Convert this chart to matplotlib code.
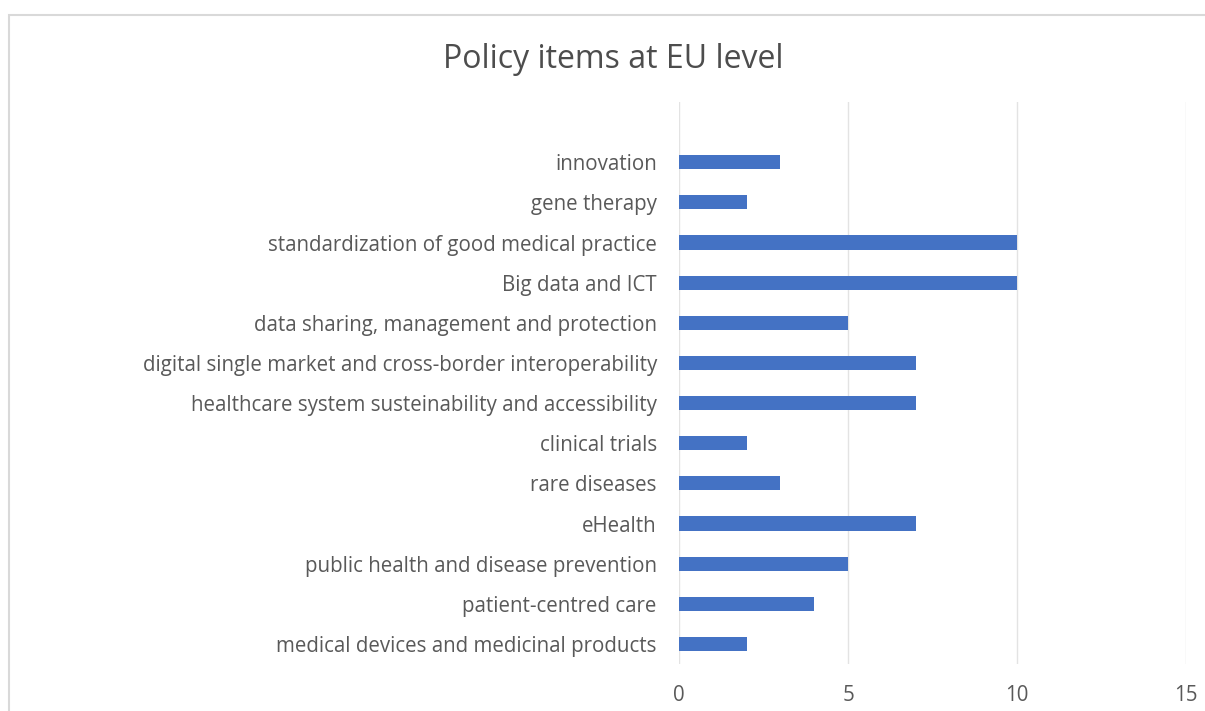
import matplotlib
matplotlib.use("Agg")
import matplotlib.pyplot as plt
from matplotlib.patches import Rectangle

categories = [
    "medical devices and medicinal products",
    "patient-centred care",
    "public health and disease prevention",
    "eHealth",
    "rare diseases",
    "clinical trials",
    "healthcare system susteinability and accessibility",
    "digital single market and cross-border interoperability",
    "data sharing, management and protection",
    "Big data and ICT",
    "standardization of good medical practice",
    "gene therapy",
    "innovation",
]
values = [2, 4, 5, 7, 3, 2, 7, 7, 5, 10, 10, 2, 3]
x_ticks = [0, 5, 10, 15]

plt.rcParams['font.family'] = ['Open Sans', 'DejaVu Sans']

fig = plt.figure(figsize=(12.05, 7.11), dpi=100)
W, H = 1205, 711

# outer chart frame (partly cut off in the picture)
fig.patches.append(Rectangle((9 / W, -0.1), 1.2, 1 - 15 / H + 0.1, transform=fig.transFigure,
                             fill=False, edgecolor='#d9d9d9', linewidth=1.5))

ax = fig.add_axes([679 / W, 1 - 664 / H, (1186 - 679) / W, (664 - 102) / H])
pos = list(range(len(categories)))
ax.barh(pos, values, height=0.35, color='#4472C4', zorder=3)

ax.set_xlim(0, 15)
ax.set_ylim(-0.5, 13.5)
ax.set_xticks(x_ticks)
ax.set_yticks(pos)
ax.set_yticklabels(categories)
ax.grid(axis='x', color='#e3e3e3', linewidth=1, zorder=0)
for s in ax.spines.values():
    s.set_visible(False)
ax.tick_params(length=0, labelsize=14.8, labelcolor='#595959')
ax.tick_params(axis='x', pad=15)
ax.tick_params(axis='y', pad=16)

fig.text(613 / W, 1 - 60 / H, "Policy items at EU level", ha='center', va='center',
         fontsize=23, color='#4d4d4d')

fig.savefig("out.png", dpi=100)
